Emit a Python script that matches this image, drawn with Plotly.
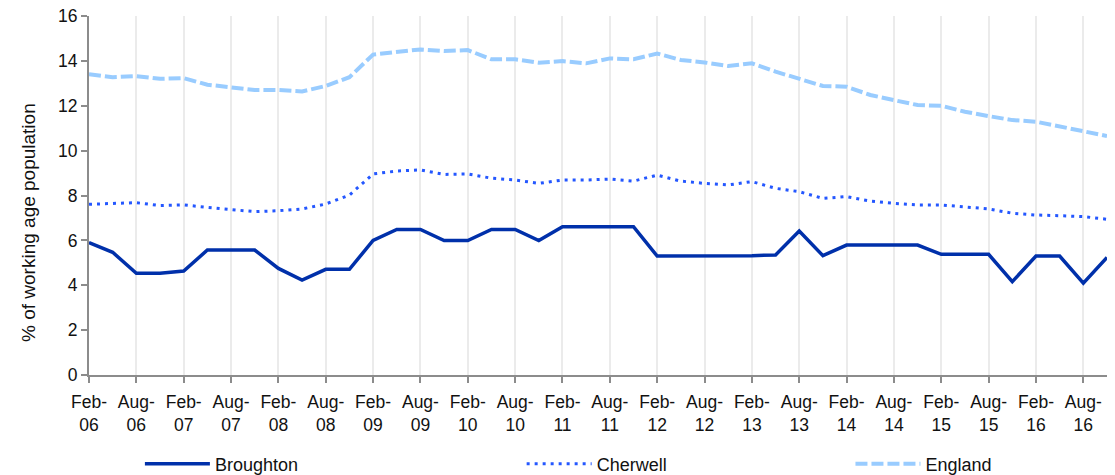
import plotly.graph_objects as go

periods = [
    "Feb-06", "May-06", "Aug-06", "Nov-06", "Feb-07", "May-07", "Aug-07", "Nov-07",
    "Feb-08", "May-08", "Aug-08", "Nov-08", "Feb-09", "May-09", "Aug-09", "Nov-09",
    "Feb-10", "May-10", "Aug-10", "Nov-10", "Feb-11", "May-11", "Aug-11", "Nov-11",
    "Feb-12", "May-12", "Aug-12", "Nov-12", "Feb-13", "May-13", "Aug-13", "Nov-13",
    "Feb-14", "May-14", "Aug-14", "Nov-14", "Feb-15", "May-15", "Aug-15", "Nov-15",
    "Feb-16", "May-16", "Aug-16", "Nov-16",
]

broughton = [
    5.9, 5.47, 4.53, 4.53, 4.63, 5.57, 5.57, 5.57, 4.75, 4.23, 4.71, 4.71,
    6.0, 6.49, 6.49, 5.99, 5.99, 6.49, 6.49, 5.99, 6.61, 6.61, 6.61, 6.61,
    5.3, 5.3, 5.3, 5.3, 5.32, 5.35, 6.42, 5.32, 5.79, 5.79, 5.79, 5.79,
    5.38, 5.38, 5.38, 4.16, 5.3, 5.3, 4.09, 5.24,
]

cherwell = [
    7.61, 7.65, 7.68, 7.55, 7.58, 7.47, 7.38, 7.28, 7.32, 7.4, 7.62, 8.02,
    8.96, 9.09, 9.14, 8.94, 8.96, 8.77, 8.69, 8.54, 8.69, 8.69, 8.73, 8.64,
    8.91, 8.64, 8.54, 8.47, 8.62, 8.32, 8.17, 7.87, 7.95, 7.75, 7.65, 7.58,
    7.58, 7.5, 7.4, 7.21, 7.13, 7.1, 7.06, 6.94,
]

england = [
    13.41, 13.27, 13.32, 13.2, 13.23, 12.94, 12.82, 12.7, 12.7, 12.64, 12.88, 13.27,
    14.28, 14.41, 14.51, 14.44, 14.48, 14.07, 14.07, 13.92, 13.99, 13.89, 14.11, 14.07,
    14.33, 14.04, 13.93, 13.77, 13.89, 13.52, 13.22, 12.88, 12.85, 12.48, 12.25, 12.03,
    12.0, 11.73, 11.54, 11.36, 11.29, 11.07, 10.89, 10.65,
]

y_title = "% of working age population"

tick_periods = [p for p in periods if p[:3] in ("Feb", "Aug")]
tick_text = [p.replace("-", "-<br>") for p in tick_periods]

family = "Liberation Sans, Arial, sans-serif"
tick_font = dict(family=family, size=17.5, color="#111111")
legend_font = dict(family=family, size=18, color="#111111")
title_font = dict(family=family, size=19, color="#111111")

fig = go.Figure()
fig.add_trace(go.Scatter(
    x=periods, y=broughton, mode="lines", name="Broughton",
    line=dict(color="#0030AA", width=3.5), legend="legend",
))
fig.add_trace(go.Scatter(
    x=periods, y=cherwell, mode="lines", name="Cherwell",
    line=dict(color="#2457FF", width=3, dash="3px,5px"), legend="legend2",
))
fig.add_trace(go.Scatter(
    x=periods, y=england, mode="lines", name="England",
    line=dict(color="#99CCFF", width=4, dash="12px,4px"), legend="legend3",
))

legend_style = dict(orientation="h", yanchor="middle", y=-0.248, xanchor="left",
                    font=legend_font, bgcolor="rgba(0,0,0,0)", itemwidth=65)

fig.update_layout(
    width=1115, height=475,
    margin=dict(l=89, r=8, t=16, b=100, autoexpand=False),
    paper_bgcolor="white", plot_bgcolor="white",
    font=tick_font,
    showlegend=True,
    legend=dict(x=0.05, **legend_style),
    legend2=dict(x=0.425, **legend_style),
    legend3=dict(x=0.748, **legend_style),
)

# axis title sits a little below the plot's middle, as in the source chart
fig.add_annotation(
    text=y_title, textangle=-90, font=title_font, showarrow=False,
    xref="paper", yref="paper", x=-0.06, y=0.426,
    xanchor="center", yanchor="middle",
)

fig.update_xaxes(
    type="category", categoryorder="array", categoryarray=periods,
    range=[0, len(periods) - 1], automargin=False,
    tickmode="array", tickvals=tick_periods, ticktext=tick_text,
    ticklabelstandoff=4,
    showgrid=True, gridcolor="#EBEBEB", gridwidth=2,
    showline=True, linecolor="#8C8C8C", linewidth=2,
    ticks="outside", ticklen=6, tickcolor="#8C8C8C", tickwidth=2,
    tickfont=tick_font, zeroline=False,
)
fig.update_yaxes(
    range=[0, 16], dtick=2, tick0=0, automargin=False,
    showgrid=False,
    showline=True, linecolor="#8C8C8C", linewidth=2,
    ticks="outside", ticklen=6, tickcolor="#8C8C8C", tickwidth=2,
    tickfont=tick_font, zeroline=False,
)

# drop the default page margin so the figure sits at the window's top-left corner
fig.write_html("out.html", config={"displayModeBar": False},
               post_script="document.body.style.margin = '0';")
